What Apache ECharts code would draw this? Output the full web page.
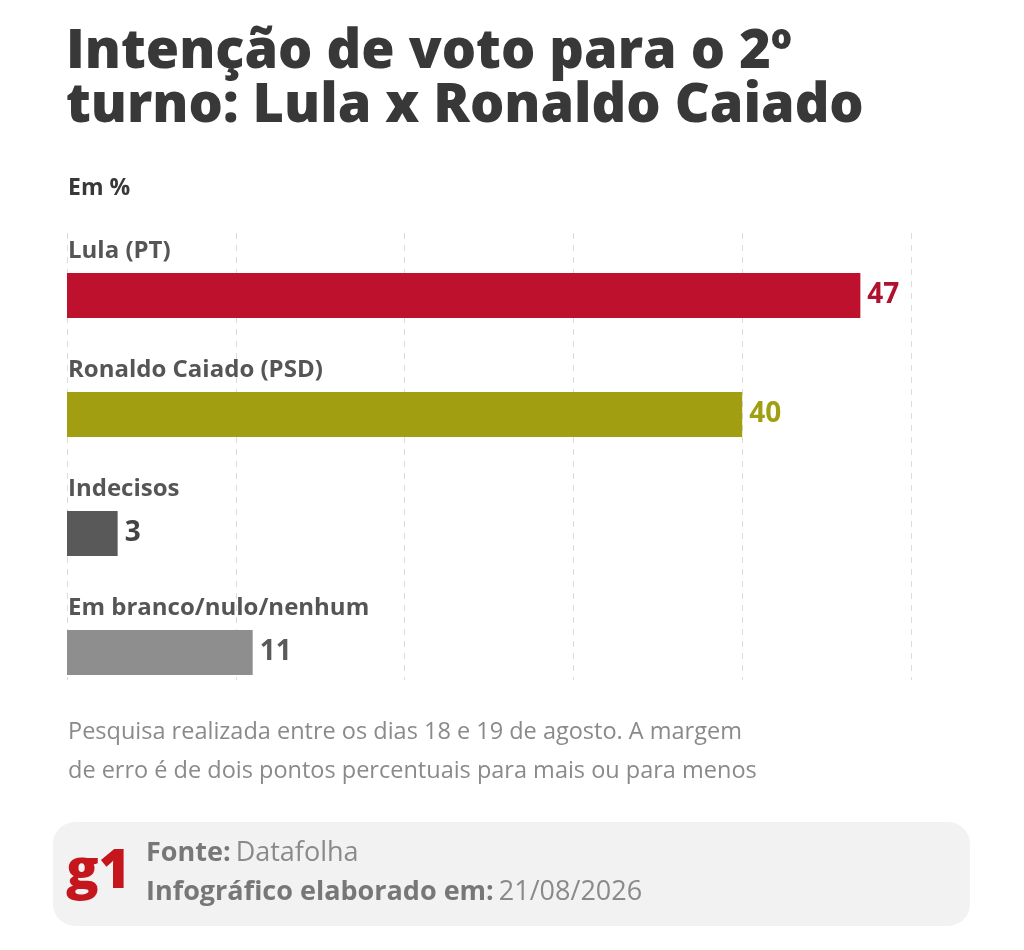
<!DOCTYPE html>
<html><head><meta charset="utf-8">
<script src="https://cdn.jsdelivr.net/npm/echarts@6/dist/echarts.min.js"></script>
<style>html,body{margin:0;padding:0;background:#fff}#c{width:1024px;height:950px}</style>
</head><body><div id="c"></div>
<script>
const categories = ['Lula (PT)', 'Ronaldo Caiado (PSD)', 'Indecisos', 'Em branco/nulo/nenhum'];
const values = [47, 40, 3, 11];
const barColors = ['#BE112D', '#A29E12', '#595959', '#8E8E8E'];
const labelColors = ['#B0122D', '#A29E12', '#444444', '#5a5a5a'];
const xTicks = [0, 10, 20, 30, 40, 50];

const chart = echarts.init(document.getElementById('c'), null, {renderer: 'canvas'});
const F = '"Open Sans", Lato, sans-serif';
chart.setOption({
  backgroundColor: '#fff',
  animation: false,
  title: [
    {text: 'Intenção de voto para o 2º\nturno: Lula x Ronaldo Caiado', left: 66, top: 26, padding: 0,
     textStyle: {fontFamily: F, fontWeight: 800, fontSize: 54, lineHeight: 54, color: '#383838'}},
    {text: 'Em %', left: 68, top: 177, padding: 0,
     textStyle: {fontFamily: F, fontWeight: 'bold', fontSize: 23, color: '#383838'}},
    {text: 'Pesquisa realizada entre os dias 18 e 19 de agosto. A margem\nde erro é de dois pontos percentuais para mais ou para menos', left: 68, top: 713, padding: 0,
     textStyle: {fontFamily: F, fontWeight: 'normal', fontSize: 23.5, lineHeight: 39, color: '#8a8a8a'}},
    {text: 'g1', left: 66, top: 846, padding: 0,
     textStyle: {fontFamily: F, fontWeight: 800, fontSize: 54, color: '#C4161C'}},
    {text: '{b|Fonte:} {r|Datafolha}\n{b|Infográfico elaborado em:} {r|21/08/2026}', left: 146, top: 834, padding: 0,
     textStyle: {rich: {
       b: {fontFamily: F, fontWeight: 'bold', fontSize: 27, lineHeight: 39, color: '#777'},
       r: {fontFamily: F, fontWeight: 'normal', fontSize: 27, lineHeight: 39, color: '#8a8a8a'}
     }}}
  ],
  graphic: [
    {type: 'rect', z: -10, shape: {x: 53, y: 822, width: 917, height: 104, r: 22}, style: {fill: '#f2f2f2'}}
  ],
  grid: [
    {left: 67, right: 113, top: 236, height: 476},
    {left: 67, right: 113, top: 233, bottom: 270}
  ],
  xAxis: [
    {type: 'value', gridIndex: 0, min: xTicks[0], max: xTicks[xTicks.length-1], interval: 10,
     splitLine: {show: false}, axisLabel: {show: false}, axisLine: {show: false}, axisTick: {show: false}},
    {type: 'value', gridIndex: 1, min: xTicks[0], max: xTicks[xTicks.length-1], interval: 10,
     splitLine: {show: true, lineStyle: {type: [6, 6], color: '#dcdcdc', width: 1}},
     axisLabel: {show: false}, axisLine: {show: false}, axisTick: {show: false}}
  ],
  yAxis: [
    {type: 'category', gridIndex: 0, inverse: true, data: categories,
     axisLine: {show: false}, axisTick: {show: false},
     axisLabel: {inside: true, margin: 1, align: 'left', verticalAlign: 'bottom', padding: [0, 0, 32, 0],
       fontFamily: F, fontWeight: 'bold', fontSize: 24, color: '#555'}},
    {type: 'value', gridIndex: 1, min: 0, max: 1, show: false, splitLine: {show: false}}
  ],
  series: [{
    type: 'bar', xAxisIndex: 0, yAxisIndex: 0, barWidth: 45,
    data: values.map((v, i) => ({value: v, itemStyle: {color: barColors[i]},
      label: {color: labelColors[i]}})),
    label: {show: true, position: 'right', distance: 7, fontFamily: F, fontWeight: 'bold', fontSize: 28}
  }]
});
</script></body></html>
